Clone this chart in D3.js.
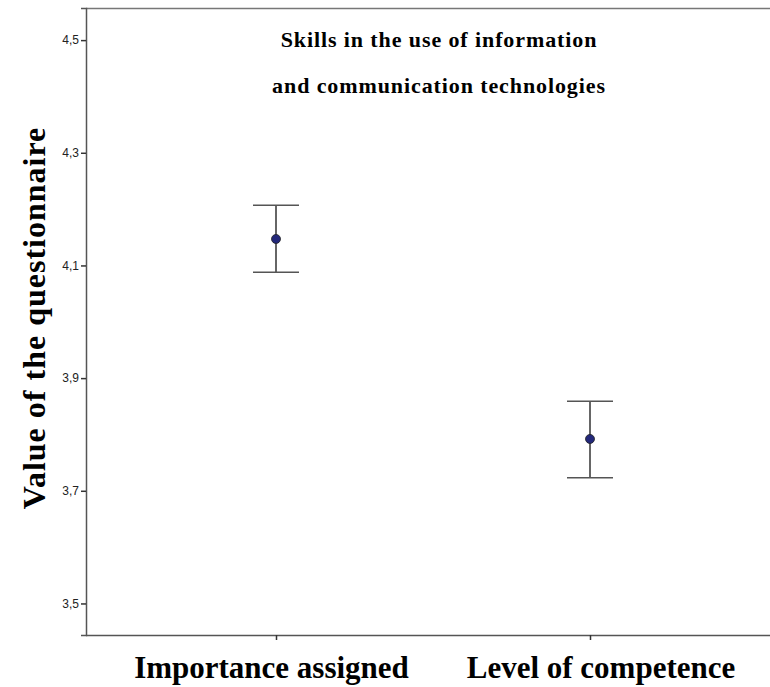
<!DOCTYPE html>
<html>
<head>
<meta charset="utf-8">
<script src="https://cdn.jsdelivr.net/npm/d3@7"></script>
<style>
  body { margin: 0; background: #fff; }
  .tick text { font-family: "Liberation Sans", Arial, sans-serif; font-size: 12px; fill: #222; }
</style>
</head>
<body>
<div id="chart"></div>
<script>
// error bar chart: mean and 95% CI
var categories = ['Importance assigned', 'Level of competence'];
var means = [4.147, 3.792];
var lower = [4.088, 3.723];
var upper = [4.207, 3.859];
var yTicks = [3.5, 3.7, 3.9, 4.1, 4.3, 4.5];
var titleLines = ['Skills in the use of information', 'and communication technologies'];

var WIDTH = 770, HEIGHT = 687;
var margin = {top: 8, right: 0, bottom: 52, left: 86};
var width = WIDTH - margin.left - margin.right,
    height = HEIGHT - margin.top - margin.bottom;

var SERIF = '"Liberation Serif", "Times New Roman", serif';

var svg = d3.select('#chart').append('svg')
            .attr('width', WIDTH)
            .attr('height', HEIGHT);

var g = svg.append('g')
           .attr('transform', `translate(${margin.left},${margin.top})`);

var x = d3.scalePoint().domain(categories)
          .range([190, 504]);
var y = d3.scaleLinear().domain([3.444, 4.557]).range([height, 0]);

// frame: top line
g.append('line')
 .attr('x1', 0).attr('x2', width)
 .attr('y1', 0.5).attr('y2', 0.5)
 .attr('stroke', '#777').attr('stroke-width', 1.5);

var yAxis = g.append('g')
  .call(d3.axisLeft(y).tickValues(yTicks).tickSize(5).tickPadding(2)
          .tickFormat(d => d3.format('.1f')(d).replace('.', ',')));
yAxis.select('.domain').attr('stroke', '#555').attr('stroke-width', 1.5);
yAxis.selectAll('.tick line').attr('stroke', '#333').attr('stroke-width', 1.5);

var xAxis = g.append('g')
  .attr('transform', `translate(0,${height})`)
  .call(d3.axisBottom(x).tickSize(5).tickFormat(''));
xAxis.select('.domain').attr('stroke', '#555').attr('stroke-width', 1.5)
     .attr('d', `M0,0.5H${width}`);
xAxis.selectAll('.tick line').attr('stroke', '#333').attr('stroke-width', 1.5);

// category labels
var labelX = [271.5, 601];
g.selectAll('.xlab')
 .data(categories).enter()
 .append('text')
 .attr('class', 'xlab')
 .attr('x', (d, i) => labelX[i] - margin.left)
 .attr('y', height + 43)
 .attr('text-anchor', 'middle')
 .style('font-family', SERIF)
 .style('font-weight', 'bold')
 .style('font-size', '31px')
 .text(d => d);

// y label
svg.append('text')
   .attr('transform', 'translate(45,318) rotate(-90)')
   .attr('text-anchor', 'middle')
   .style('font-family', SERIF)
   .style('font-weight', 'bold')
   .style('font-size', '32px')
   .style('letter-spacing', '1px')
   .text('Value of the questionnaire');

// title
svg.selectAll('.title')
   .data(titleLines).enter()
   .append('text')
   .attr('class', 'title')
   .attr('x', 439)
   .attr('y', (d, i) => 47 + i * 46)
   .attr('text-anchor', 'middle')
   .style('font-family', SERIF)
   .style('font-weight', 'bold')
   .style('font-size', '22px')
   .style('letter-spacing', '0.9px')
   .text(d => d);

// error bars
var bars = g.selectAll('.bar')
  .data(categories).enter()
  .append('g').attr('class', 'bar');

bars.append('line')
  .attr('x1', d => x(d)).attr('x2', d => x(d))
  .attr('y1', (d, i) => y(upper[i])).attr('y2', (d, i) => y(lower[i]))
  .attr('stroke', '#333').attr('stroke-width', 1.5);

[upper, lower].forEach(arr => {
  bars.append('line')
    .attr('x1', d => x(d) - 23).attr('x2', d => x(d) + 23)
    .attr('y1', (d, i) => y(arr[i])).attr('y2', (d, i) => y(arr[i]))
    .attr('stroke', '#555').attr('stroke-width', 1.5);
});

bars.append('circle')
  .attr('cx', d => x(d))
  .attr('cy', (d, i) => y(means[i]))
  .attr('r', 4.5)
  .attr('fill', '#23287a')
  .attr('stroke', '#222').attr('stroke-width', 0.8);
</script>
</body>
</html>
